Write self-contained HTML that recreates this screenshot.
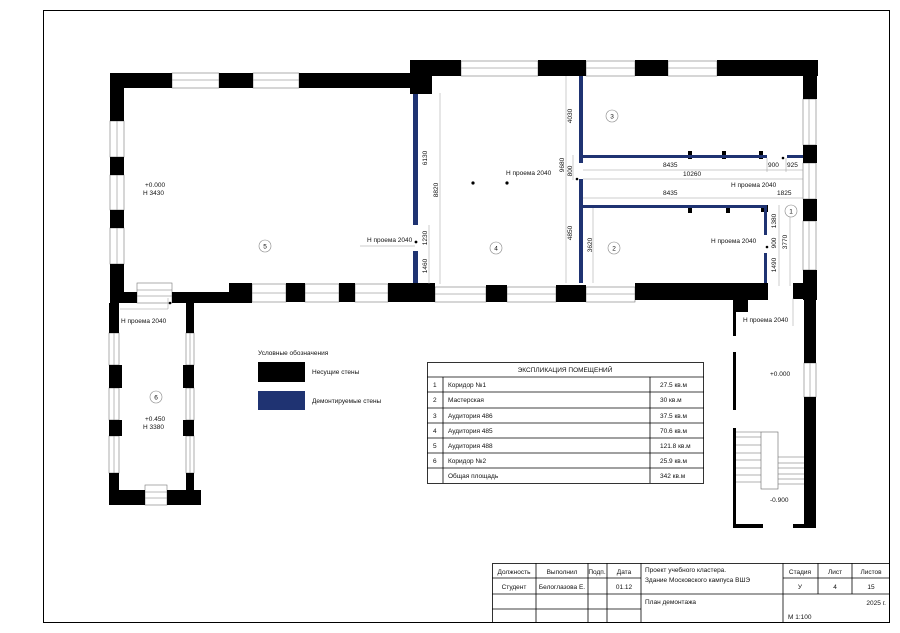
<!DOCTYPE html>
<html><head><meta charset="utf-8"><style>
html,body{margin:0;padding:0;background:#fff;}
svg{display:block;}
text{font-family:"Liberation Sans","DejaVu Sans",sans-serif;fill:#111;}
</style></head><body>
<svg width="900" height="633" viewBox="0 0 900 633" xmlns="http://www.w3.org/2000/svg">
<rect width="900" height="633" fill="#fff"/>
<!-- frame -->
<rect x="43.5" y="10.5" width="846" height="612" fill="none" stroke="#000" stroke-width="1"/>

<!-- windows (white with lines) -->
<g fill="#fff" stroke="#777" stroke-width="0.6">
<!-- room5 top -->
<rect x="172" y="73" width="47" height="15"/><rect x="253" y="73" width="46" height="15"/>
<!-- room5 left -->
<rect x="110" y="121" width="14" height="36"/><rect x="110" y="175" width="14" height="35"/><rect x="110" y="228" width="14" height="36"/>
<!-- bottom row -->
<rect x="252" y="284" width="34" height="18"/><rect x="305" y="284" width="34" height="18"/><rect x="355" y="284" width="33" height="18"/>
<rect x="435" y="287" width="51" height="15"/><rect x="507" y="287" width="49" height="15"/><rect x="586" y="287" width="49" height="15"/>
<!-- top right -->
<rect x="461" y="61" width="77" height="15"/><rect x="586" y="61" width="49" height="15"/><rect x="668" y="61" width="49" height="15"/>
<!-- right wall -->
<rect x="803" y="99" width="13" height="46"/><rect x="803" y="163" width="13" height="36"/><rect x="803" y="221" width="13" height="49"/>
<rect x="804" y="363" width="12" height="34"/>
<!-- room6 -->
<rect x="109" y="333" width="10" height="32"/><rect x="109" y="388" width="10" height="32"/><rect x="109" y="436" width="10" height="37"/>
<rect x="186" y="333" width="8" height="32"/><rect x="186" y="388" width="8" height="32"/><rect x="186" y="436" width="8" height="37"/>
<rect x="145" y="485" width="22" height="20"/><rect x="137" y="283" width="35" height="20"/>
</g>
<g stroke="#777" stroke-width="0.5">
<line x1="172" y1="80" x2="219" y2="80"/><line x1="253" y1="80" x2="299" y2="80"/>
<line x1="117" y1="121" x2="117" y2="157"/><line x1="117" y1="175" x2="117" y2="210"/><line x1="117" y1="228" x2="117" y2="264"/>
<line x1="252" y1="293" x2="388" y2="293"/><line x1="435" y1="294" x2="635" y2="294"/>
<line x1="461" y1="68" x2="717" y2="68"/>
<line x1="809" y1="99" x2="809" y2="270"/><line x1="810" y1="363" x2="810" y2="397"/>
<line x1="114" y1="333" x2="114" y2="473"/><line x1="190" y1="333" x2="190" y2="473"/>
<line x1="145" y1="492" x2="167" y2="492"/><line x1="145" y1="498" x2="167" y2="498"/>
<line x1="137" y1="290" x2="172" y2="290"/><line x1="137" y1="296" x2="172" y2="296"/>
</g>

<!-- bearing walls -->
<g fill="#000">
<rect x="110" y="73" width="62" height="15"/><rect x="219" y="73" width="34" height="15"/><rect x="299" y="73" width="133" height="15"/>
<rect x="410" y="60" width="22" height="34"/>
<rect x="417" y="60" width="44" height="16"/><rect x="538" y="60" width="48" height="16"/><rect x="635" y="60" width="33" height="16"/><rect x="717" y="60" width="101" height="16"/>
<rect x="803" y="60" width="14" height="39"/><rect x="803" y="145" width="14" height="18"/><rect x="803" y="199" width="14" height="22"/><rect x="803" y="270" width="14" height="30"/>
<rect x="110" y="88" width="14" height="33"/><rect x="110" y="157" width="14" height="18"/><rect x="110" y="210" width="14" height="18"/><rect x="110" y="264" width="14" height="39"/>
<rect x="110" y="292" width="27" height="11"/><rect x="172" y="292" width="80" height="11"/><rect x="229" y="283" width="23" height="20"/>
<rect x="286" y="283" width="19" height="19"/><rect x="339" y="283" width="16" height="19"/><rect x="388" y="283" width="47" height="19"/>
<rect x="486" y="285" width="21" height="17"/><rect x="556" y="285" width="30" height="17"/><rect x="635" y="283" width="133" height="17"/>
<rect x="793" y="283" width="24" height="16"/><rect x="733" y="298" width="15" height="14"/><rect x="804" y="298" width="12" height="65"/><rect x="804" y="397" width="12" height="131"/>
<rect x="733" y="312" width="3" height="24"/><rect x="733" y="352" width="3" height="58"/><rect x="733" y="428" width="3" height="100"/>
<rect x="733" y="524" width="30" height="4"/><rect x="793" y="524" width="23" height="4"/>
<!-- room6 -->
<rect x="109" y="303" width="10" height="30"/><rect x="109" y="365" width="13" height="23"/><rect x="109" y="420" width="13" height="16"/><rect x="109" y="473" width="10" height="32"/>
<rect x="109" y="490" width="36" height="15"/><rect x="167" y="490" width="34" height="15"/>
<rect x="186" y="303" width="8" height="30"/><rect x="183" y="365" width="11" height="23"/><rect x="183" y="420" width="11" height="16"/><rect x="186" y="473" width="8" height="17"/>
<!-- ticks -->
<rect x="688" y="151" width="4" height="8"/><rect x="722" y="151" width="4" height="8"/><rect x="759" y="151" width="4" height="8"/>
<rect x="688" y="205" width="4" height="8"/><rect x="726" y="205" width="4" height="8"/><rect x="761" y="205" width="7" height="7"/>
</g>

<!-- demolished walls -->
<g fill="#1f3372">
<rect x="413" y="94" width="5" height="131"/><rect x="413" y="251" width="5" height="32"/>
<rect x="579" y="76" width="4" height="87"/><rect x="579" y="179" width="4" height="104"/>
<rect x="583" y="155" width="184" height="3"/><rect x="787" y="155" width="16" height="3"/>
<rect x="583" y="205" width="184" height="3"/>
<rect x="764" y="205" width="3" height="30"/><rect x="764" y="253" width="3" height="30"/>
</g>

<!-- stairs -->
<g fill="none" stroke="#666" stroke-width="0.6">
<rect x="761" y="432" width="17" height="57"/>
<line x1="736" y1="432" x2="761" y2="432"/>
<line x1="736" y1="437" x2="761" y2="437"/><line x1="736" y1="445" x2="761" y2="445"/><line x1="736" y1="453" x2="761" y2="453"/><line x1="736" y1="460" x2="761" y2="460"/><line x1="736" y1="468" x2="761" y2="468"/><line x1="736" y1="475" x2="761" y2="475"/><line x1="736" y1="482" x2="761" y2="482"/>
<line x1="778" y1="457" x2="804" y2="457"/><line x1="778" y1="463" x2="804" y2="463"/><line x1="778" y1="468" x2="804" y2="468"/><line x1="778" y1="474" x2="804" y2="474"/><line x1="778" y1="479" x2="804" y2="479"/><line x1="778" y1="484" x2="804" y2="484"/>
</g>

<!-- dimension lines -->
<g stroke="#999" stroke-width="0.5" fill="none">
<line x1="440" y1="93" x2="440" y2="284"/><line x1="429" y1="225" x2="429" y2="284"/>
<line x1="566" y1="76" x2="566" y2="283"/><line x1="573" y1="155" x2="573" y2="180"/>
<line x1="593" y1="208" x2="593" y2="283"/>
<line x1="583" y1="170" x2="803" y2="170"/><line x1="583" y1="179" x2="803" y2="179"/><line x1="583" y1="198" x2="803" y2="198"/>
<line x1="767" y1="158" x2="767" y2="172"/><line x1="786" y1="158" x2="786" y2="172"/>
<line x1="779" y1="205" x2="779" y2="286"/><line x1="790" y1="205" x2="790" y2="286"/>
<line x1="360" y1="246" x2="415" y2="246"/>
<line x1="120" y1="309" x2="168" y2="309"/><line x1="168" y1="298" x2="168" y2="309"/>
<line x1="793" y1="298" x2="793" y2="326"/>
</g>
<g fill="#000"><circle cx="416" cy="242" r="1.4"/><circle cx="473" cy="183" r="1.6"/><circle cx="507" cy="183" r="1.6"/><circle cx="577" cy="179" r="1.3"/><circle cx="783" cy="158" r="1.3"/><circle cx="767" cy="247" r="1.3"/><circle cx="797" cy="297" r="1.3"/><circle cx="170" cy="303" r="1.3"/></g>

<!-- room circles -->
<g fill="#fff" stroke="#888" stroke-width="0.6">
<circle cx="265" cy="246" r="6"/><circle cx="496" cy="248" r="6"/><circle cx="612" cy="116" r="6"/><circle cx="614" cy="248" r="6"/><circle cx="791" cy="211" r="6"/><circle cx="156" cy="397" r="6"/>
</g>
<g font-size="6.5" text-anchor="middle">
<text x="265" y="248.5">5</text><text x="496" y="250.5">4</text><text x="612" y="118.5">3</text><text x="614" y="250.5">2</text><text x="791" y="213.5">1</text><text x="156" y="399.5">6</text>
</g>

<!-- labels -->
<g font-size="6.5">
<text x="145" y="187">+0.000</text><text x="143" y="195">H 3430</text>
<text x="145" y="421">+0.450</text><text x="143" y="429">H 3380</text>
<text x="770" y="376">+0.000</text><text x="770" y="502">-0.900</text>
<text x="367" y="242">Н проема 2040</text>
<text x="506" y="175">Н проема 2040</text>
<text x="731" y="187">Н проема 2040</text>
<text x="711" y="243">Н проема 2040</text>
<text x="121" y="323">Н проема 2040</text>
<text x="743" y="322">Н проема 2040</text>
<text x="663" y="167">8435</text><text x="663" y="195">8435</text><text x="768" y="167">900</text><text x="787" y="167">925</text>
<text x="683" y="176">10260</text><text x="777" y="195">1825</text>
</g>
<g font-size="6.5" text-anchor="middle">
<text transform="translate(427,158) rotate(-90)">6130</text>
<text transform="translate(438,190) rotate(-90)">8820</text>
<text transform="translate(427,238) rotate(-90)">1230</text>
<text transform="translate(427,266) rotate(-90)">1460</text>
<text transform="translate(572,116) rotate(-90)">4030</text>
<text transform="translate(564,165) rotate(-90)">9680</text>
<text transform="translate(572,171) rotate(-90)">800</text>
<text transform="translate(572,233) rotate(-90)">4850</text>
<text transform="translate(592,245) rotate(-90)">3620</text>
<text transform="translate(776,221) rotate(-90)">1380</text>
<text transform="translate(776,243) rotate(-90)">900</text>
<text transform="translate(787,242) rotate(-90)">3770</text>
<text transform="translate(776,265) rotate(-90)">1490</text>
</g>

<!-- legend -->
<text x="258" y="355" font-size="6.5">Условные обозначения</text>
<rect x="258" y="362" width="47" height="20" fill="#000"/>
<text x="312" y="374" font-size="6.5">Несущие стены</text>
<rect x="258" y="391" width="47" height="19" fill="#1f3372"/>
<text x="312" y="403" font-size="6.5">Демонтируемые стены</text>

<!-- explication table -->
<g stroke="#000" stroke-width="0.8" fill="none">
<rect x="427.5" y="362.5" width="276" height="121"/>
<line x1="427" y1="377" x2="704" y2="377"/><line x1="427" y1="392" x2="704" y2="392"/><line x1="427" y1="408" x2="704" y2="408"/><line x1="427" y1="423" x2="704" y2="423"/><line x1="427" y1="438" x2="704" y2="438"/><line x1="427" y1="453" x2="704" y2="453"/><line x1="427" y1="468" x2="704" y2="468"/>
<line x1="443" y1="377" x2="443" y2="483"/><line x1="650" y1="377" x2="650" y2="483"/>
</g>
<g font-size="6.5">
<text x="565" y="372" text-anchor="middle">ЭКСПЛИКАЦИЯ ПОМЕЩЕНИЙ</text>
<text x="433" y="387">1</text><text x="448" y="387">Коридор №1</text><text x="660" y="387">27.5 кв.м</text>
<text x="433" y="402">2</text><text x="448" y="402">Мастерская</text><text x="660" y="402">30 кв.м</text>
<text x="433" y="418">3</text><text x="448" y="418">Аудитория 486</text><text x="660" y="418">37.5 кв.м</text>
<text x="433" y="433">4</text><text x="448" y="433">Аудитория 485</text><text x="660" y="433">70.6 кв.м</text>
<text x="433" y="448">5</text><text x="448" y="448">Аудитория 488</text><text x="660" y="448">121.8 кв.м</text>
<text x="433" y="463">6</text><text x="448" y="463">Коридор №2</text><text x="660" y="463">25.9 кв.м</text>
<text x="448" y="478">Общая площадь</text><text x="660" y="478">342 кв.м</text>
</g>

<!-- title block -->
<g stroke="#000" stroke-width="0.8" fill="none">
<rect x="492.5" y="563.5" width="397" height="59"/>
<line x1="492" y1="578" x2="641" y2="578"/><line x1="492" y1="594" x2="890" y2="594"/><line x1="492" y1="609" x2="641" y2="609"/>
<line x1="783" y1="578" x2="890" y2="578"/>
<line x1="536" y1="563" x2="536" y2="623"/><line x1="588" y1="563" x2="588" y2="623"/><line x1="607" y1="563" x2="607" y2="623"/><line x1="641" y1="563" x2="641" y2="623"/>
<line x1="783" y1="563" x2="783" y2="623"/><line x1="818" y1="563" x2="818" y2="594"/><line x1="852" y1="563" x2="852" y2="594"/>
</g>
<g font-size="6.5">
<text x="514" y="574" text-anchor="middle">Должность</text><text x="562" y="574" text-anchor="middle">Выполнил</text><text x="597" y="574" text-anchor="middle">Подп.</text><text x="624" y="574" text-anchor="middle">Дата</text>
<text x="514" y="589" text-anchor="middle">Студент</text><text x="562" y="589" text-anchor="middle">Белоглазова Е.</text><text x="624" y="589" text-anchor="middle">01.12</text>
<text x="645" y="572">Проект учебного кластера.</text><text x="645" y="582">Здание Московского кампуса ВШЭ</text>
<text x="645" y="604">План демонтажа</text>
<text x="800" y="574" text-anchor="middle">Стадия</text><text x="835" y="574" text-anchor="middle">Лист</text><text x="871" y="574" text-anchor="middle">Листов</text>
<text x="800" y="589" text-anchor="middle">У</text><text x="835" y="589" text-anchor="middle">4</text><text x="871" y="589" text-anchor="middle">15</text>
<text x="886" y="605" text-anchor="end">2025 г.</text>
<text x="788" y="619">М 1:100</text>
</g>
</svg>
</body></html>
